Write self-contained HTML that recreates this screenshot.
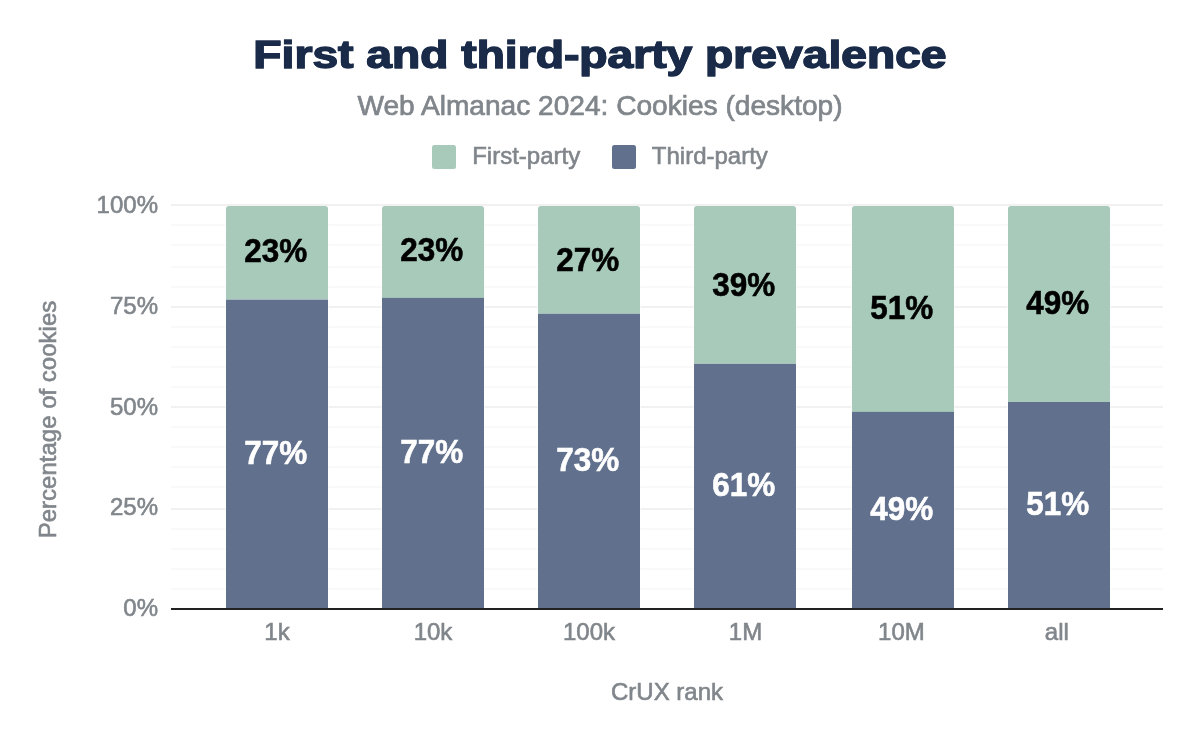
<!DOCTYPE html>
<html lang="en">
<head>
<meta charset="utf-8">
<title>First and third-party prevalence</title>
<style>
html,body{margin:0;padding:0;background:#fff;}
body{width:1200px;height:742px;overflow:hidden;position:relative;}
svg{display:block;}
text{font-family:"Liberation Sans",Arial,sans-serif;}
.title{position:absolute;left:0.1px;top:33.2px;width:1200px;margin:0;text-align:center;white-space:nowrap;font-family:"Liberation Sans",Arial,sans-serif;font-weight:bold;font-size:38.5px;line-height:44px;color:#1a2b49;-webkit-text-stroke:1.3px #1a2b49;text-shadow:0.6px 0 0 #1a2b49,-0.6px 0 0 #1a2b49;transform:scaleX(1.2);transform-origin:600.3px 0;}
.sub{font-size:28.1px;fill:#80868b;stroke:#80868b;stroke-width:0.7px;}
.leg{font-size:24px;fill:#80868b;stroke:#80868b;stroke-width:0.6px;}
.ax{font-size:24px;fill:#80868b;stroke:#80868b;stroke-width:0.6px;}
.lab{font-weight:bold;font-size:34px;stroke-width:0.6px;}
.minor{stroke:#f9f9f9;stroke-width:2;}
.major{stroke:#f1f1f1;stroke-width:2;}
</style>
</head>
<body>
<svg width="1200" height="742" viewBox="0 0 1200 742">
<rect width="1200" height="742" fill="#ffffff"/>
<text class="sub" x="600" y="114.7" text-anchor="middle">Web Almanac 2024: Cookies (desktop)</text>
<!-- legend -->
<rect x="432" y="145" width="24" height="24" rx="2.5" fill="#a8caba"/>
<text class="leg" x="472.2" y="163.7">First-party</text>
<rect x="612" y="145" width="24" height="24" rx="2.5" fill="#61708c"/>
<text class="leg" x="651.8" y="163.7">Third-party</text>
<!-- grid -->
<g id="grid">
<line class="major" x1="171" x2="1163" y1="205" y2="205"/>
<line class="minor" x1="171" x2="1163" y1="225" y2="225"/>
<line class="minor" x1="171" x2="1163" y1="245" y2="245"/>
<line class="minor" x1="171" x2="1163" y1="267" y2="267"/>
<line class="minor" x1="171" x2="1163" y1="287" y2="287"/>
<line class="major" x1="171" x2="1163" y1="307" y2="307"/>
<line class="minor" x1="171" x2="1163" y1="327" y2="327"/>
<line class="minor" x1="171" x2="1163" y1="347" y2="347"/>
<line class="minor" x1="171" x2="1163" y1="367" y2="367"/>
<line class="minor" x1="171" x2="1163" y1="387" y2="387"/>
<line class="major" x1="171" x2="1163" y1="407" y2="407"/>
<line class="minor" x1="171" x2="1163" y1="427" y2="427"/>
<line class="minor" x1="171" x2="1163" y1="447" y2="447"/>
<line class="minor" x1="171" x2="1163" y1="467" y2="467"/>
<line class="minor" x1="171" x2="1163" y1="487" y2="487"/>
<line class="major" x1="171" x2="1163" y1="509" y2="509"/>
<line class="minor" x1="171" x2="1163" y1="529" y2="529"/>
<line class="minor" x1="171" x2="1163" y1="549" y2="549"/>
<line class="minor" x1="171" x2="1163" y1="569" y2="569"/>
<line class="minor" x1="171" x2="1163" y1="589" y2="589"/>
</g>
<!-- bars -->
<g id="bars">
<rect x="225.4" y="206" width="103.2" height="402" fill="#fff"/>
<path d="M226 299.6V209A3 3 0 0 1 229 206H325A3 3 0 0 1 328 209V299.6Z" fill="#a8caba"/>
<rect x="226" y="299.6" width="102" height="308.40" fill="#61708c"/>
<text class="lab" transform="translate(275.7 261.8) scale(0.925 1)" text-anchor="middle" fill="#000" stroke="#000">23%</text>
<text class="lab" transform="translate(275.7 463.5) scale(0.925 1)" text-anchor="middle" fill="#fff" stroke="#fff">77%</text>
<text class="ax" x="277.0" y="639.9" text-anchor="middle">1k</text>
<rect x="381.4" y="206" width="103.2" height="402" fill="#fff"/>
<path d="M382 297.9V209A3 3 0 0 1 385 206H481A3 3 0 0 1 484 209V297.9Z" fill="#a8caba"/>
<rect x="382" y="297.9" width="102" height="310.10" fill="#61708c"/>
<text class="lab" transform="translate(431.7 260.9) scale(0.925 1)" text-anchor="middle" fill="#000" stroke="#000">23%</text>
<text class="lab" transform="translate(431.7 462.6) scale(0.925 1)" text-anchor="middle" fill="#fff" stroke="#fff">77%</text>
<text class="ax" x="433.0" y="639.9" text-anchor="middle">10k</text>
<rect x="537.4" y="206" width="103.2" height="402" fill="#fff"/>
<path d="M538 313.75V209A3 3 0 0 1 541 206H637A3 3 0 0 1 640 209V313.75Z" fill="#a8caba"/>
<rect x="538" y="313.75" width="102" height="294.25" fill="#61708c"/>
<text class="lab" transform="translate(587.7 270.5) scale(0.925 1)" text-anchor="middle" fill="#000" stroke="#000">27%</text>
<text class="lab" transform="translate(587.7 471.1) scale(0.925 1)" text-anchor="middle" fill="#fff" stroke="#fff">73%</text>
<text class="ax" x="589.0" y="639.9" text-anchor="middle">100k</text>
<rect x="693.4" y="206" width="103.2" height="402" fill="#fff"/>
<path d="M694 363.8V209A3 3 0 0 1 697 206H793A3 3 0 0 1 796 209V363.8Z" fill="#a8caba"/>
<rect x="694" y="363.8" width="102" height="244.20" fill="#61708c"/>
<text class="lab" transform="translate(743.7 295.5) scale(0.925 1)" text-anchor="middle" fill="#000" stroke="#000">39%</text>
<text class="lab" transform="translate(743.7 496.4) scale(0.925 1)" text-anchor="middle" fill="#fff" stroke="#fff">61%</text>
<text class="ax" x="745.5" y="639.9" text-anchor="middle">1M</text>
<rect x="851.4" y="206" width="103.2" height="402" fill="#fff"/>
<path d="M852 411.9V209A3 3 0 0 1 855 206H951A3 3 0 0 1 954 209V411.9Z" fill="#a8caba"/>
<rect x="852" y="411.9" width="102" height="196.10" fill="#61708c"/>
<text class="lab" transform="translate(901.7 318.6) scale(0.925 1)" text-anchor="middle" fill="#000" stroke="#000">51%</text>
<text class="lab" transform="translate(901.7 519.6) scale(0.925 1)" text-anchor="middle" fill="#fff" stroke="#fff">49%</text>
<text class="ax" x="901.4" y="639.9" text-anchor="middle">10M</text>
<rect x="1007.4" y="206" width="103.2" height="402" fill="#fff"/>
<path d="M1008 402V209A3 3 0 0 1 1011 206H1107A3 3 0 0 1 1110 209V402Z" fill="#a8caba"/>
<rect x="1008" y="402" width="102" height="206.00" fill="#61708c"/>
<text class="lab" transform="translate(1057.7 313.9) scale(0.925 1)" text-anchor="middle" fill="#000" stroke="#000">49%</text>
<text class="lab" transform="translate(1057.7 514.7) scale(0.925 1)" text-anchor="middle" fill="#fff" stroke="#fff">51%</text>
<text class="ax" x="1056.8" y="639.9" text-anchor="middle">all</text>
<text class="ax" x="158" y="616.2" text-anchor="end">0%</text>
<text class="ax" x="158" y="515.4" text-anchor="end">25%</text>
<text class="ax" x="158" y="414.6" text-anchor="end">50%</text>
<text class="ax" x="158" y="313.8" text-anchor="end">75%</text>
<text class="ax" x="158" y="213.0" text-anchor="end">100%</text>
<text class="ax" x="667" y="700.2" text-anchor="middle">CrUX rank</text>
<text class="ax" transform="translate(56.3 419.5) rotate(-90)" text-anchor="middle">Percentage of cookies</text>
</g>
<line x1="171" x2="1163" y1="609" y2="609" stroke="#222" stroke-width="2"/>
</svg>
<h1 class="title">First and third-party prevalence</h1>
</body>
</html>
